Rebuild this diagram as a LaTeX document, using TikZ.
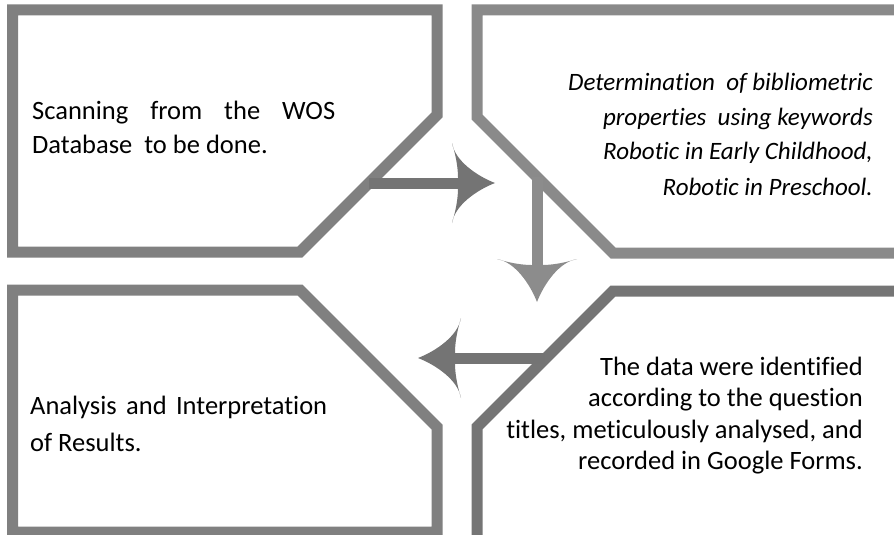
\documentclass[tikz,border=0pt]{standalone}
\usepackage{fontspec}
\setmainfont{Carlito}[Ligatures={NoCommon}]
\usetikzlibrary{positioning}

\definecolor{frameA}{HTML}{808080}
\definecolor{frameB}{HTML}{8A8A8A}
\definecolor{frameC}{HTML}{757575}
\definecolor{arrowA}{HTML}{747474}
\definecolor{arrowB}{HTML}{8C8C8C}

\begin{document}
\begin{tikzpicture}[x=1pt, y=-1pt]
\tikzstyle{frame} = [line width = 11pt, miter limit = 10]
\tikzstyle{label} = [inner sep = 0pt]
\tikzstyle{flow} = [line width = 11pt]
\tikzset{pics/bighead/.style = {code = {
  \fill[#1] (0,0) .. controls (-18,-7) and (-40,-22) .. (-43,-40)
    .. controls (-39,-27) and (-37,-15) .. (-37,-5.5) -- (-37,5.5)
    .. controls (-37,15) and (-39,27) .. (-43,40)
    .. controls (-40,22) and (-18,7) .. cycle;
}}}
\useasboundingbox (0,0) rectangle (894,535);
\clip (0,0) rectangle (894,535);
% -----------------------------------
% frames
\draw[frame, frameA] (12.5,10) -- (437,10) -- (437,115) -- (300,252) -- (12.5,252) -- cycle;
\draw[frame, frameB] (477,10) -- (910,10) -- (910,253) -- (613,253) -- (477,117) -- cycle;
\draw[frame, frameC] (613,291) -- (910,291) -- (910,545) -- (477,545) -- (477,427) -- cycle;
\draw[frame, frameA] (12.5,290) -- (300,290) -- (437,427) -- (437,532) -- (12.5,532) -- cycle;
% -----------------------------------
% texts
\node[label, anchor = base west] (scan) at (32,119) {\parbox[t]{320pt}{\fontsize{26.5}{34}\selectfont
  \makebox[303pt][s]{Scanning from the WOS}\\
  Database\ \ to be done.}};
\node[label, anchor = base east] (determ) at (873,90) {\parbox[t]{400pt}{\fontsize{25}{35}\selectfont\raggedleft\itshape
  Determination\ \ of bibliometric\\
  properties\ \ using keywords\\
  Robotic in Early Childhood,\\
  Robotic in Preschool.}};
\node[label, anchor = base east] (ident) at (863,375) {\parbox[t]{400pt}{\fontsize{26.5}{31.5}\selectfont\raggedleft
  The data were identified\\
  according to the question\\
  titles, meticulously analysed, and\\
  recorded in Google Forms.}};
\node[label, anchor = base west] (analysis) at (30,414) {\parbox[t]{320pt}{\fontsize{26.5}{37}\selectfont
  \makebox[297pt][s]{Analysis and Interpretation}\\
  of Results.}};
% -----------------------------------
% arrows
\coordinate (r1) at (369,183);
\coordinate (r2) at (495,183);
\coordinate (d1) at (537,177);
\coordinate (d2) at (537,302);
\coordinate (l1) at (545,358);
\coordinate (l2) at (418,358);

\draw[flow, arrowA] (r1) -- ([xshift=-30]r2);
\pic at (r2) {bighead=arrowA};
\draw[flow, arrowB] (d1) -- ([yshift=30]d2);
\pic[rotate=-90] at (d2) {bighead=arrowB};
\draw[flow, arrowA] (l1) -- ([xshift=30]l2);
\pic[rotate=180] at (l2) {bighead=arrowA};
% -----------------------------------
\end{tikzpicture}
\end{document}
